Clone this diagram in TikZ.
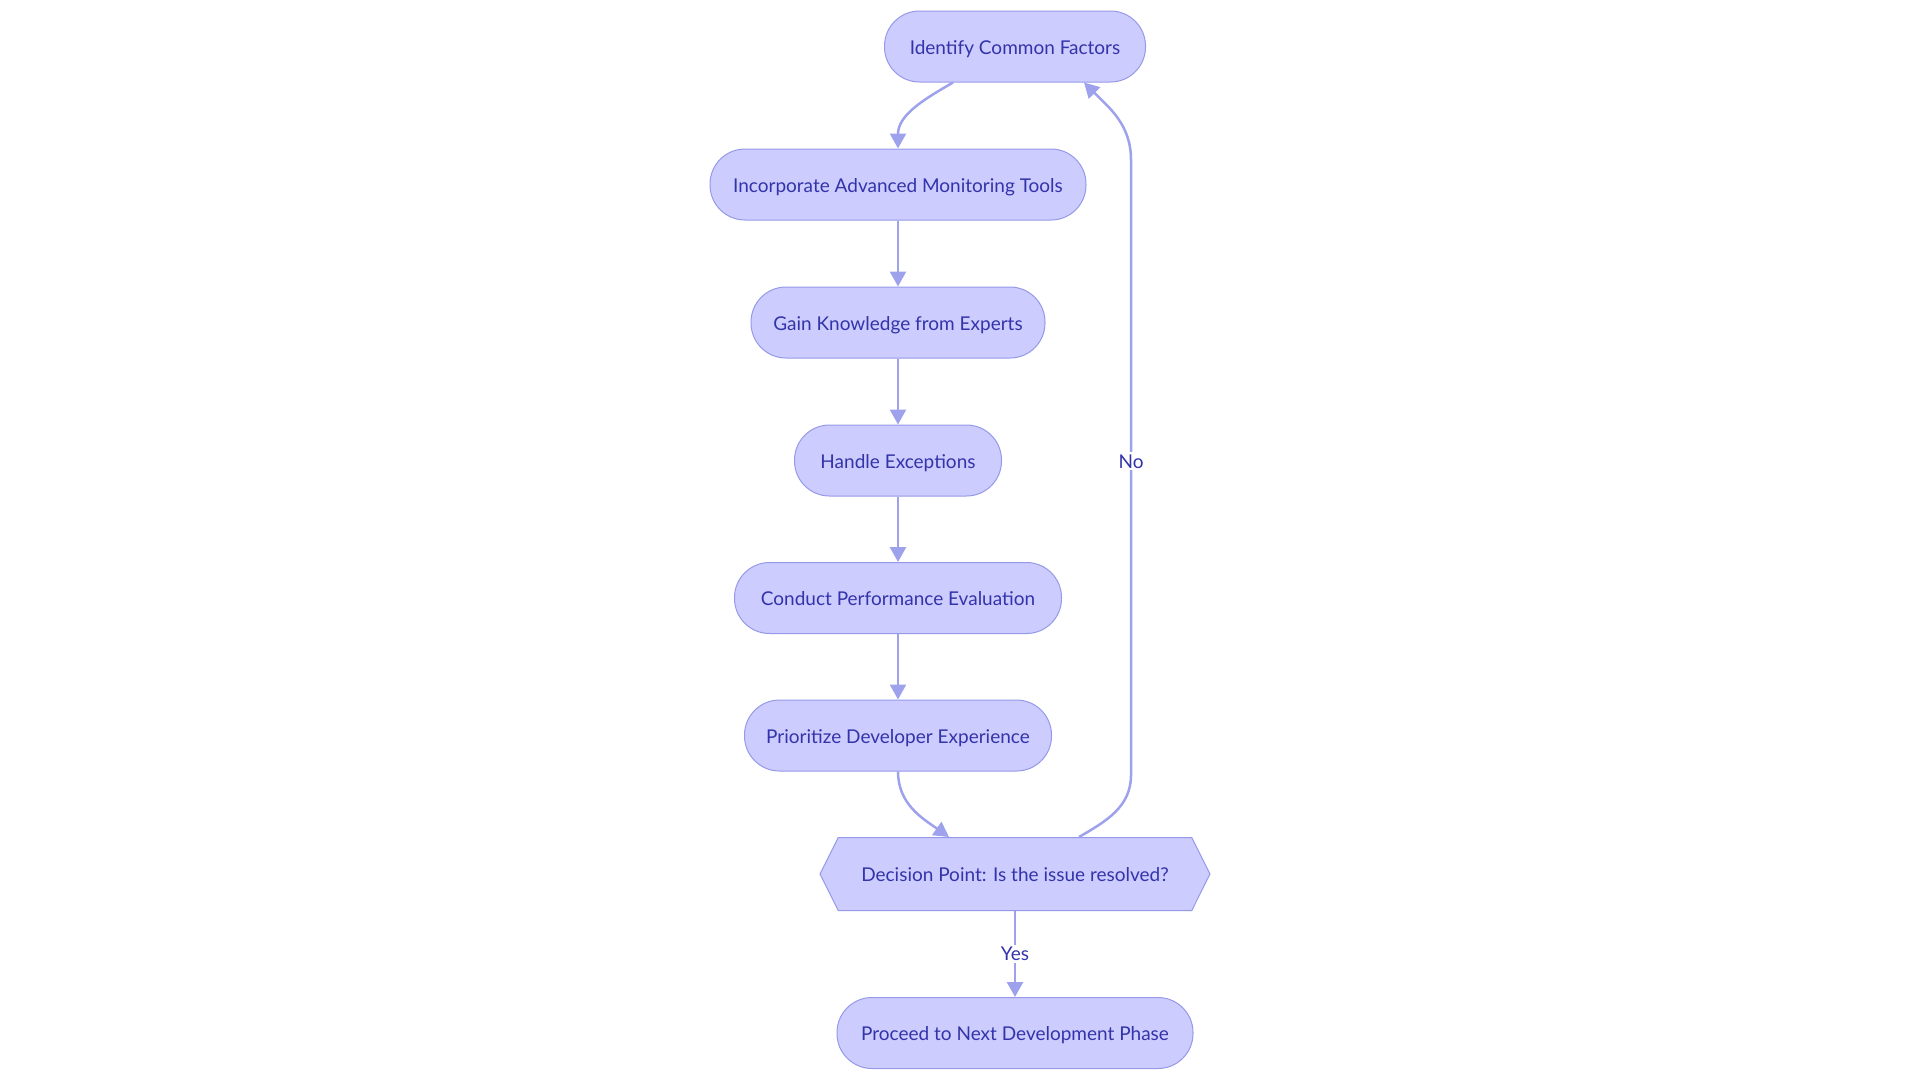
\documentclass[tikz,border=0pt]{standalone}
\usepackage{fontspec}
\setmainfont{Lato}
\usetikzlibrary{arrows.meta,shapes.symbols}

\definecolor{vypln}{RGB}{204,204,255}
\definecolor{okraj}{RGB}{150,153,232}
\definecolor{cara}{RGB}{158,161,236}
\definecolor{pismo}{RGB}{51,51,170}

\begin{document}
\begin{tikzpicture}[x=1pt, y=-1pt, >={Triangle[length=15pt,width=16pt]},
  krok/.style={draw=okraj, fill=vypln, line width=1pt, rounded corners=35pt,
    minimum height=71pt, text=pismo, font=\fontsize{19}{23}\selectfont,
    text height=18pt, text depth=3pt},
  rozhod/.style={draw=okraj, fill=vypln, line width=1pt, shape=signal,
    signal to=west and east, signal pointer angle=127,
    minimum height=73pt, text=pismo, font=\fontsize{19}{23}\selectfont,
    text height=18pt, text depth=3pt},
  hrana/.style={->, draw=cara, line width=2.5pt},
  popis/.style={fill=white, text=pismo, inner sep=2pt, font=\fontsize{19}{23}\selectfont}]

\useasboundingbox (0,0) rectangle (1920,1080);

% kroky
\node[krok, minimum width=261pt] (ident) at (1015,46.5) {Identify Common Factors};
\node[krok, minimum width=376pt] (monit) at (898,184.5) {Incorporate Advanced Monitoring Tools};
\node[krok, minimum width=294pt] (experts) at (898,322.5) {Gain Knowledge from Experts};
\node[krok, minimum width=207pt] (exc) at (898,460.5) {Handle Exceptions};
\node[krok, minimum width=327pt] (perf) at (898,598) {Conduct Performance Evaluation};
\node[krok, minimum width=307pt] (devexp) at (898,735.5) {Prioritize Developer Experience};

% rozhodnutí
\node[rozhod, minimum width=390pt] (decide) at (1015,874) {Decision Point: Is the issue resolved?};
\node[krok, minimum width=356pt] (next) at (1015,1033) {Proceed to Next Development Phase};

% smyčka zpět
\coordinate (nolow) at (1131,775);
\coordinate (nohigh) at (1131,160);

% spojnice
\draw[hrana] ([xshift=-62pt]ident.south) to[out=-150, in=90] (monit.north);
\draw[hrana] (monit) -- (experts);
\draw[hrana] (experts) -- (exc);
\draw[hrana] (exc) -- (perf);
\draw[hrana] (perf) -- (devexp);
\draw[hrana] (devexp.south) to[out=-90, in=145] ([xshift=-66pt]decide.north);
\draw[hrana] (decide) -- node[popis] {Yes} (next);
\draw[hrana] ([xshift=64pt]decide.north) to[out=30, in=-90] (nolow)
  -- node[popis, pos=0.51] {No} (nohigh) to[out=90, in=-45] ([xshift=69pt]ident.south);

\end{tikzpicture}
\end{document}
